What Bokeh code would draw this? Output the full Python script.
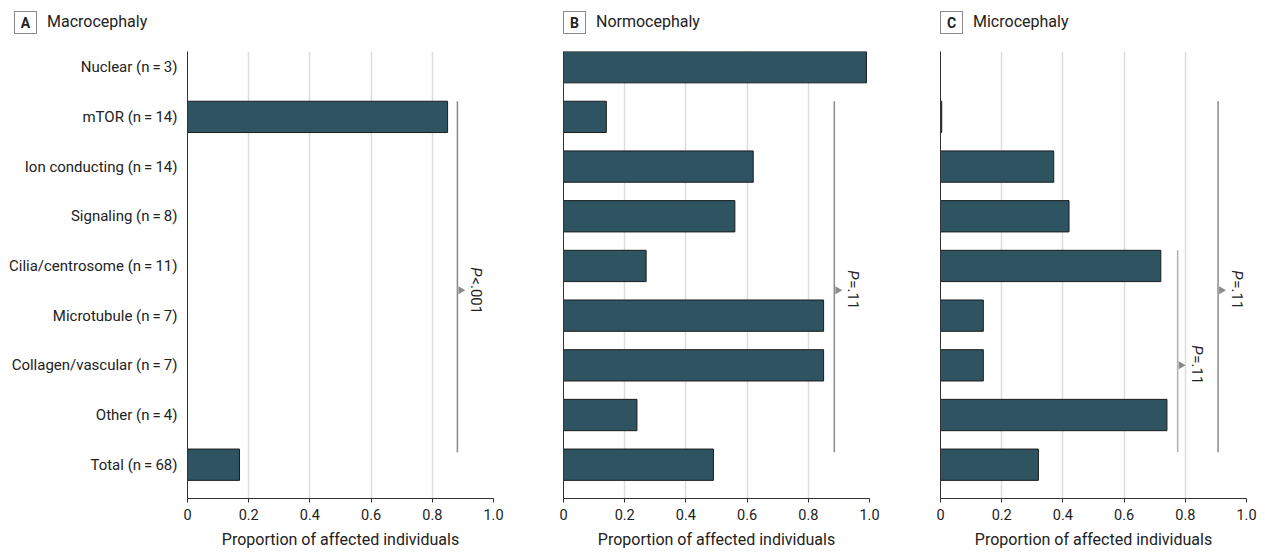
import numpy as np
from bokeh.plotting import figure
from bokeh.layouts import row, column
from bokeh.models import Range1d, FixedTicker, CustomJSTickFormatter, Label, Div
from bokeh.embed import file_html
from bokeh.resources import INLINE

# ---------------- data ----------------
TS = "\u2009"
categories = [
    f"Nuclear (n{TS}={TS}3)",
    f"mTOR (n{TS}={TS}14)",
    f"Ion conducting (n{TS}={TS}14)",
    f"Signaling (n{TS}={TS}8)",
    f"Cilia/centrosome (n{TS}={TS}11)",
    f"Microtubule (n{TS}={TS}7)",
    f"Collagen/vascular (n{TS}={TS}7)",
    f"Other (n{TS}={TS}4)",
    f"Total (n{TS}={TS}68)",
]
macrocephaly = [0.0, 0.85, 0.0, 0.0, 0.0, 0.0, 0.0, 0.0, 0.17]
normocephaly = [0.99, 0.14, 0.62, 0.56, 0.27, 0.85, 0.85, 0.24, 0.49]
microcephaly = [0.0, 0.004, 0.37, 0.42, 0.72, 0.14, 0.14, 0.74, 0.32]

panel_letters = ["A", "B", "C"]
panel_titles = ["Macrocephaly", "Normocephaly", "Microcephaly"]
x_ticks = [0, 0.2, 0.4, 0.6, 0.8, 1.0]
x_label = "Proportion of affected individuals"

# significance brackets: (x, first row, last row, arrow row, p-text)
p_brackets = [
    [(0.882, 1, 8, 4.49, "<.001")],
    [(0.885, 1, 8, 4.49, "=.11")],
    [(0.907, 1, 8, 4.49, "=.11"), (0.775, 4, 8, 6.0, "=.11")],
]

# ---------------- style ----------------
FONT = "Roboto"
BAR = "#2E5461"
TXT = "#222222"
idx = list(range(len(categories)))
Y_TOP = -0.316
HEAD_H = 40


def make_panel(k, values, show_labels, bl, br):
    p = figure(
        frame_width=306, frame_height=447,
        min_border_left=bl, min_border_right=br,
        min_border_top=51 - HEAD_H, min_border_bottom=54,
        x_range=Range1d(0, 1), y_range=Range1d(8.68, Y_TOP),
        output_backend="svg", toolbar_location=None,
    )
    p.outline_line_color = None
    p.background_fill_color = "white"
    p.border_fill_color = "white"

    p.hbar(y=idx, left=0, right=values, height=0.63,
           fill_color=BAR, line_color="#1c1c1c", line_width=1)

    # axes
    xa = p.xaxis[0]
    xa.ticker = FixedTicker(ticks=x_ticks)
    xa.formatter = CustomJSTickFormatter(code="return tick == 0 ? '0' : tick.toFixed(1);")
    xa.axis_line_color = "#333333"
    xa.major_tick_line_color = "#333333"
    xa.major_tick_out = 4
    xa.major_tick_in = 0
    xa.minor_tick_line_color = None
    xa.major_label_text_font = FONT
    xa.major_label_text_font_size = "14.5px"
    xa.major_label_text_color = TXT
    xa.major_label_standoff = 6
    xa.axis_label = x_label
    xa.axis_label_text_font = FONT
    xa.axis_label_text_font_size = "16px"
    xa.axis_label_text_font_style = "normal"
    xa.axis_label_text_color = TXT
    xa.axis_label_standoff = 7

    ya = p.yaxis[0]
    ya.ticker = FixedTicker(ticks=idx)
    ya.axis_line_color = "#333333"
    ya.major_tick_line_color = None
    ya.minor_tick_line_color = None
    if show_labels:
        ya.formatter = CustomJSTickFormatter(args=dict(labels=categories),
                                             code="return labels[Math.round(tick)] || '';")
    else:
        ya.formatter = CustomJSTickFormatter(code="return '';")
    ya.major_label_text_font = FONT
    ya.major_label_text_font_size = "15px"
    ya.major_label_text_color = TXT
    ya.major_label_standoff = 4

    p.xgrid.ticker = FixedTicker(ticks=x_ticks[1:])
    p.xgrid.grid_line_color = "#dcdcdc"
    p.xgrid.grid_line_width = 1.5
    p.ygrid.grid_line_color = None

    # significance brackets
    for j, (bx, r0, r1, ry, ptxt) in enumerate(p_brackets[k]):
        col = "#8a8a8a" if j == 0 else "#b0b0b0"
        p.segment(x0=[bx], x1=[bx], y0=[r0 - 0.315], y1=[r1 - 0.25],
                  line_color=col, line_width=1.5)
        p.scatter(x=[bx + 0.011], y=[ry], marker="triangle", size=8,
                  angle=-np.pi / 2, fill_color="#8a8a8a", line_color=None)
        half = 23 if len(ptxt) > 4 else 20
        p.add_layout(Label(x=bx, y=ry, x_offset=19, y_offset=half, text="P",
                           angle=-np.pi / 2, text_align="left", text_baseline="middle",
                           text_font=FONT, text_font_size="15px",
                           text_font_style="italic", text_color=TXT))
        p.add_layout(Label(x=bx, y=ry, x_offset=19, y_offset=half - 10, text=ptxt,
                           angle=-np.pi / 2, text_align="left", text_baseline="middle",
                           text_font=FONT, text_font_size="15px", text_color=TXT))
    return p


def make_heading(k, width, pad_left):
    html = (
        f'<div style="display:flex;align-items:center;font-family:Roboto;'
        f'font-size:16px;color:{TXT};padding-left:{pad_left}px;padding-top:11px;">'
        f'<span style="display:inline-flex;align-items:center;justify-content:center;'
        f'box-sizing:border-box;width:23px;height:23px;border:1px solid #8a8a8a;'
        f'font-weight:bold;font-size:14px;margin-right:10px;">{panel_letters[k]}</span>'
        f'<span>{panel_titles[k]}</span></div>'
    )
    return Div(text=html, width=width, height=HEAD_H, margin=0)


pa = make_panel(0, macrocephaly, True, 187, 35)
pb = make_panel(1, normocephaly, False, 35, 35)
pc = make_panel(2, microcephaly, False, 36, 12)

ha = make_heading(0, 187 + 306 + 35, 14)
hb = make_heading(1, 35 + 306 + 35, 35)
hc = make_heading(2, 36 + 306 + 12, 36)

layout = column(row(ha, hb, hc, spacing=0), row(pa, pb, pc, spacing=0), spacing=0)
open("out.html", "w").write(file_html(layout, INLINE))
